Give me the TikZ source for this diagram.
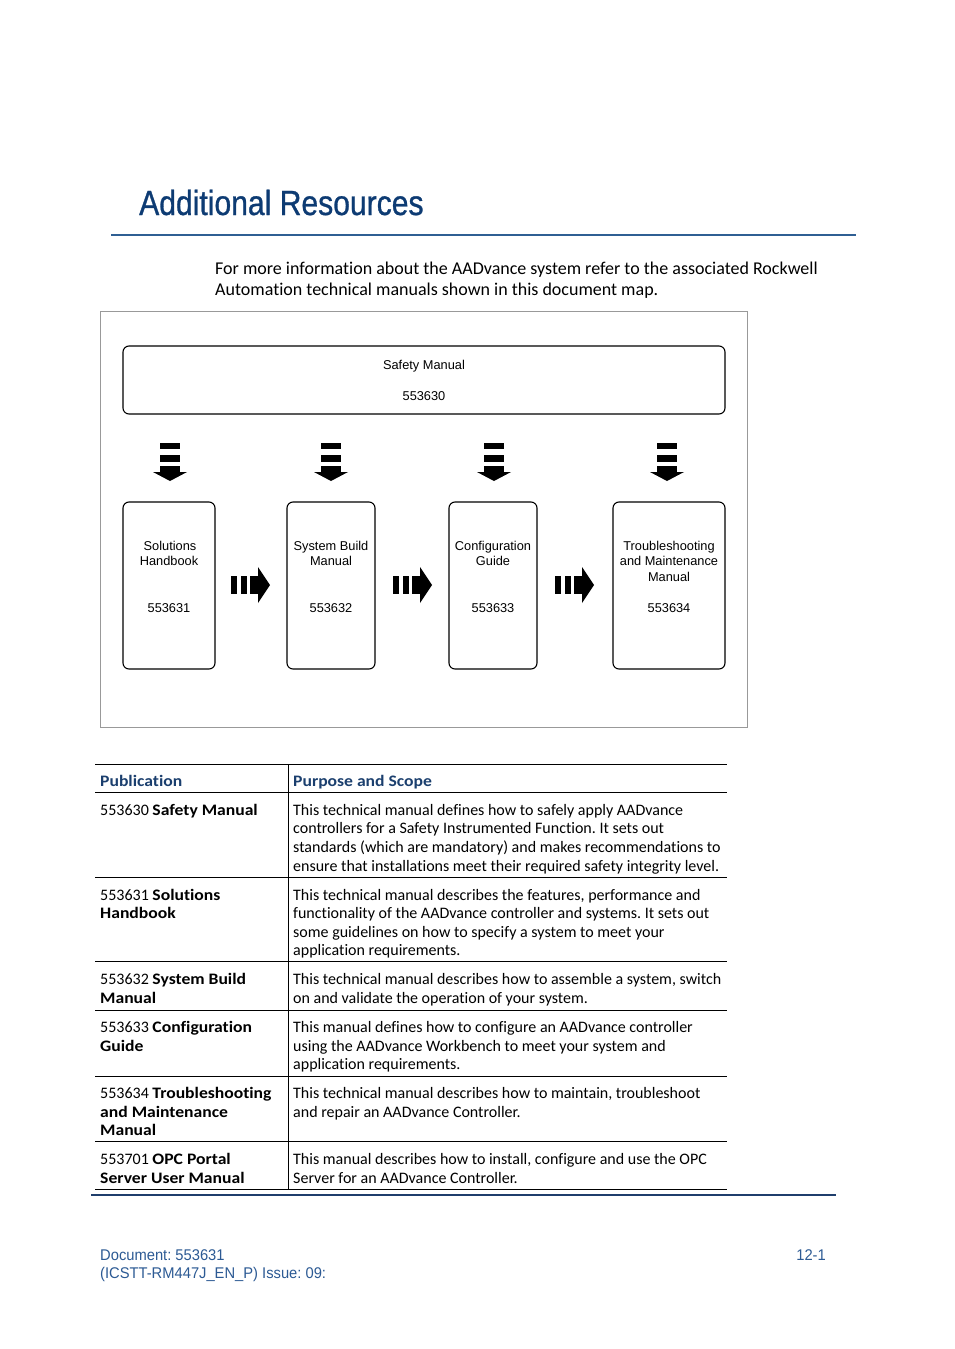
\documentclass[tikz,border=0pt]{standalone}
\usepackage{fontspec}
\setmainfont[Ligatures=NoCommon,BoldFeatures={FakeStretch=1.1}]{Carlito}
\newfontfamily\arialf{Liberation Sans}
\newfontfamily\footf[FakeStretch=0.95]{Liberation Sans}
\newfontfamily\titlef[FakeStretch=0.86,FakeBold=0.8]{Liberation Sans}
\definecolor{titleblue}{HTML}{0D3B73}
\definecolor{headblue}{HTML}{1B3F6E}
\definecolor{ruleblue}{HTML}{2F5F93}
\definecolor{darkrule}{HTML}{1F3E6C}
\definecolor{footblue}{HTML}{2C5A94}
\newcommand\myDownArrow[1]{%
  \fill ({#1-10},443) rectangle ({#1+10},449);
  \fill ({#1-10},455) rectangle ({#1+10},462);
  \fill ({#1-10},466) rectangle ({#1+10},472);
  \fill ({#1-17},472) -- ({#1+17},472) -- (#1,481) -- cycle;}
\newcommand\myRightArrow[1]{%
  \fill (#1,576) rectangle ({#1+6},594);
  \fill ({#1+10},576) rectangle ({#1+16},594);
  \fill ({#1+19},576) rectangle ({#1+28},594);
  \fill ({#1+27},567) -- ({#1+27},603) -- ({#1+39},585) -- cycle;}
\frenchspacing
\begin{document}
\begin{tikzpicture}[x=1pt,y=-1pt,
  body/.style={anchor=base west,inner sep=0pt,font=\fontsize{16}{18}\selectfont},
  intro/.style={anchor=base west,inner sep=0pt,font=\fontsize{18}{20}\selectfont},
  head/.style={anchor=base west,inner sep=0pt,font=\fontsize{16}{18}\selectfont\bfseries,text=headblue},
  dtext/.style={anchor=base,inner sep=0pt,font=\arialf\fontsize{12.8}{15}\selectfont},
  box/.style={draw,line width=1.1pt,rounded corners=6pt,inner sep=0pt},
  foot/.style={inner sep=0pt,font=\footf\fontsize{15.5}{18}\selectfont,text=footblue},
  tabrule/.style={line width=0.9pt}]
\useasboundingbox (0,0) rectangle (954,1349);
\fill[white] (0,0) rectangle (954,1349);
% title
\node[anchor=base west,inner sep=0pt,font=\titlef\fontsize{35}{40}\selectfont,text=titleblue] (title) at (139,215) {Additional Resources};
\draw[ruleblue,line width=2pt] (111,235) -- (856,235);
\node[intro] (i1) at (215,274) {For more information about the AADvance system refer to the associated Rockwell};
\node[intro] (i2) at (215,295) {Automation technical manuals shown in this document map.};
% diagram
\draw[gray!80,line width=0.8pt] (100,311) rectangle (747,727);
\draw[box] (123,346) rectangle (725,414);
\node[dtext] (sm1) at (424,369) {Safety Manual};
\node[dtext] (sm2) at (424,400) {553630};
\node[box,minimum width=92pt,minimum height=167pt] (b1) at (169,585.5) {};
\node[box,minimum width=88pt,minimum height=167pt] (b2) at (331,585.5) {};
\node[box,minimum width=88pt,minimum height=167pt] (b3) at (493,585.5) {};
\node[box,minimum width=112pt,minimum height=167pt] (b4) at (669,585.5) {};
\node[dtext] (b1a) at (170,550) {Solutions};
\node[dtext] (b1b) at (169,565) {Handbook};
\node[dtext] (b1n) at (169,612) {553631};
\node[dtext] (b2a) at (331,550) {System Build};
\node[dtext] (b2b) at (331,565) {Manual};
\node[dtext] (b2n) at (331,612) {553632};
\node[dtext] (b3a) at (493,550) {Configuration};
\node[dtext] (b3b) at (493,565) {Guide};
\node[dtext] (b3n) at (493,612) {553633};
\node[dtext] (b4a) at (669,550) {Troubleshooting};
\node[dtext] (b4b) at (669,565) {and Maintenance};
\node[dtext] (b4c) at (669,581) {Manual};
\node[dtext] (b4n) at (669,612) {553634};
\myDownArrow{170}
\myDownArrow{331}
\myDownArrow{494}
\myDownArrow{667}
\myRightArrow{231}
\myRightArrow{393}
\myRightArrow{555}
% table
\draw[tabrule] (95,764) -- (727,764);
\draw[tabrule] (95,792) -- (727,792);
\draw[tabrule] (95,877) -- (727,877);
\draw[tabrule] (95,961) -- (727,961);
\draw[tabrule] (95,1010) -- (727,1010);
\draw[tabrule] (95,1076) -- (727,1076);
\draw[tabrule] (95,1141) -- (727,1141);
\draw[tabrule] (95,1189) -- (727,1189);
\draw[tabrule] (288,764) -- (288,1189);
\draw[darkrule,line width=2.2pt] (91,1195) -- (836,1195);
\node[head] (h1) at (100,786) {Publication};
\node[head] (h2) at (293,786) {Purpose and Scope};
% row 1
\node[body] (p1a) at (100,815) {553630 \textbf{Safety Manual}};
\node[body] (r1a) at (293,815) {This technical manual defines how to safely apply AADvance};
\node[body] (r1b) at (293,833) {controllers for a Safety Instrumented Function. It sets out};
\node[body] (r1c) at (293,852) {standards (which are mandatory) and makes recommendations to};
\node[body] (r1d) at (293,871) {ensure that installations meet their required safety integrity level.};
% row 2
\node[body] (p2a) at (100,900) {553631 \textbf{Solutions}};
\node[body] (p2b) at (100,918) {\textbf{Handbook}};
\node[body] (r2a) at (293,900) {This technical manual describes the features, performance and};
\node[body] (r2b) at (293,918) {functionality of the AADvance controller and systems. It sets out};
\node[body] (r2c) at (293,937) {some guidelines on how to specify a system to meet your};
\node[body] (r2d) at (293,955) {application requirements.};
% row 3
\node[body] (p3a) at (100,984) {553632 \textbf{System Build}};
\node[body] (p3b) at (100,1003) {\textbf{Manual}};
\node[body] (r3a) at (293,984) {This technical manual describes how to assemble a system, switch};
\node[body] (r3b) at (293,1003) {on and validate the operation of your system.};
% row 4
\node[body] (p4a) at (100,1032) {553633 \textbf{Configuration}};
\node[body] (p4b) at (100,1051) {\textbf{Guide}};
\node[body] (r4a) at (293,1032) {This manual defines how to configure an AADvance controller};
\node[body] (r4b) at (293,1051) {using the AADvance Workbench to meet your system and};
\node[body] (r4c) at (293,1069) {application requirements.};
% row 5
\node[body] (p5a) at (100,1098) {553634 \textbf{Troubleshooting}};
\node[body] (p5b) at (100,1117) {\textbf{and Maintenance}};
\node[body] (p5c) at (100,1135) {\textbf{Manual}};
\node[body] (r5a) at (293,1098) {This technical manual describes how to maintain, troubleshoot};
\node[body] (r5b) at (293,1117) {and repair an AADvance Controller.};
% row 6
\node[body] (p6a) at (100,1164) {553701 \textbf{OPC Portal}};
\node[body] (p6b) at (100,1183) {\textbf{Server User Manual}};
\node[body] (r6a) at (293,1164) {This manual describes how to install, configure and use the OPC};
\node[body] (r6b) at (293,1183) {Server for an AADvance Controller.};
% footer
\node[foot,anchor=base west] (f1) at (100,1260) {Document: 553631};
\node[foot,anchor=base west] (f2) at (100,1278) {(ICSTT-RM447J\_EN\_P) Issue: 09:};
\node[foot,anchor=base east] (f3) at (826,1260) {12-1};
\end{tikzpicture}
\end{document}
